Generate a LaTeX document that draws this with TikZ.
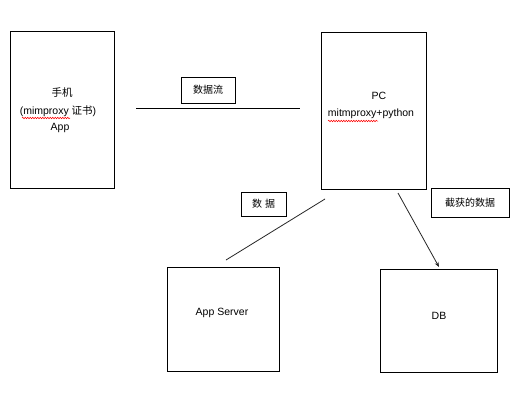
\documentclass[tikz,border=0pt]{standalone}
\usepackage{fontspec}
\setmainfont{Liberation Sans}
\newfontfamily\cjk{Noto Sans CJK SC}
\usetikzlibrary{arrows.meta,decorations.pathmorphing}
\begin{document}
\begin{tikzpicture}[x=1pt,y=-1pt,
  box/.style={draw=black,line width=1pt,inner sep=0pt},
  lbl/.style={draw=black,line width=1pt,inner sep=0pt,font=\cjk\fontsize{10}{11}\selectfont},
  txt/.style={inner sep=0pt,font=\fontsize{10.5}{12}\selectfont},
  conn/.style={line width=0.8pt,draw=black!85},
  squig/.style={draw=red,line width=0.5pt,decorate,decoration={snake,amplitude=0.8pt,segment length=2.5pt}}]
\useasboundingbox (0,0) rectangle (517,405);
\fill[white] (0,0) rectangle (517,405);
% boxes
\node[box,minimum width=104pt,minimum height=157pt] (phone) at (62,109.5) {};
\node[box,minimum width=105pt,minimum height=157pt] (pc) at (373.5,110.5) {};
\node[box,minimum width=112pt,minimum height=104pt] (srv) at (223,319) {};
\node[box,minimum width=117pt,minimum height=103pt] (db) at (438.5,320.5) {};
% texts in boxes
\node[txt] (t1) at (62,93) {\cjk 手机};
\node[txt] (t2) at (58,111) {(mimproxy {\cjk 证书})};
\node[txt] (t3) at (60,128) {App};
\node[txt] (t4) at (379,96) {PC};
\node[txt] (t5) at (371,114) {mitmproxy+python};
\node[txt] (t6) at (222,313) {App Server};
\node[txt] (t7) at (439,316) {DB};
% squiggles
\coordinate (s1a) at (22,118); \coordinate (s1b) at (70,118);
\draw[squig] (s1a) -- (s1b);
\coordinate (s2a) at (328,121); \coordinate (s2b) at (378,121);
\draw[squig] (s2a) -- (s2b);
% labels
\node[lbl,minimum width=54pt,minimum height=26pt] (l1) at (208,90) {数据流};
\node[lbl,minimum width=45pt,minimum height=24pt] (l2) at (263.5,204) {数\hspace{3pt}据};
\node[lbl,minimum width=78pt,minimum height=29pt] (l3) at (470,202.5) {截获的数据};
% connectors
\coordinate (c1a) at (136,108); \coordinate (c1b) at (300,108);
\draw[line width=1pt] (c1a) -- (c1b);
\coordinate (c2a) at (325,199); \coordinate (c2b) at (226,260);
\draw[conn] (c2a) -- (c2b);
\coordinate (c3a) at (398,193); \coordinate (c3b) at (439,267);
\draw[conn,-{Stealth[length=5pt,width=4pt]}] (c3a) -- (c3b);
\end{tikzpicture}
\end{document}
